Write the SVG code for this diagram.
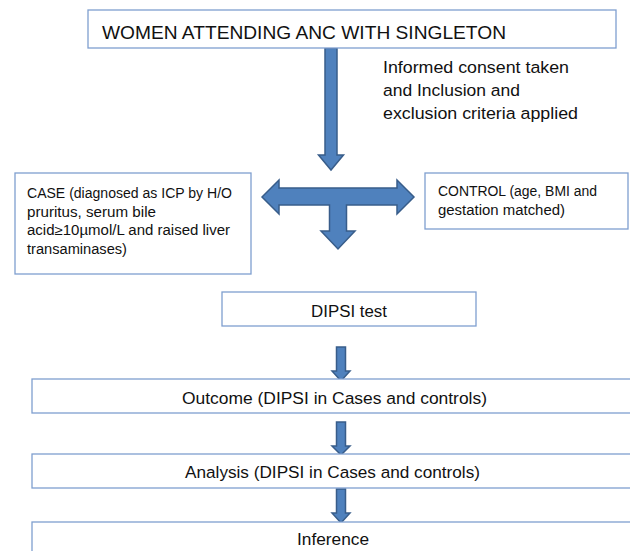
<svg xmlns="http://www.w3.org/2000/svg" width="630" height="551" viewBox="0 0 630 551">
<style>
.box{fill:#fff;stroke:#7F9FCF;stroke-width:1.3}
.arr{fill:#4F81BD;stroke:#385D8A;stroke-width:1.5;stroke-linejoin:miter}
text{font-family:"Liberation Sans",Arial,sans-serif;fill:#111}
.s{font-size:13.8px}
.m{font-size:16.8px}
.l{font-size:17.8px}
</style>
<rect width="630" height="551" fill="#fff"/>
<g id="connectors">
<path class="arr" d="M325,48 L337,48 L337,155 L343.5,155 L331,170 L318.5,155 L325,155 Z"/>
<path class="arr" d="M262,197 L279,180 L279,188 L397,188 L397,180 L414,197 L397,214 L397,205 L346.5,205 L346.5,231 L355,231 L338,249 L321,231 L329.5,231 L329.5,205 L279,205 L279,214 Z"/>
<path class="arr" d="M336.5,347 L345.5,347 L345.5,371 L350,371 L341,381 L332,371 L336.5,371 Z"/>
<path class="arr" d="M336.5,422 L345.5,422 L345.5,446 L350,446 L341,455 L332,446 L336.5,446 Z"/>
<path class="arr" d="M336.5,489 L345.5,489 L345.5,513 L350,513 L341,523 L332,513 L336.5,513 Z"/>
</g>
<g id="note">
<text class="m" x="383" y="73" textLength="186" lengthAdjust="spacingAndGlyphs">Informed consent taken</text>
<text class="m" x="383" y="96" textLength="137" lengthAdjust="spacingAndGlyphs">and Inclusion and</text>
<text class="m" x="383" y="119" textLength="195" lengthAdjust="spacingAndGlyphs">exclusion criteria applied</text>
</g>
<g id="women">
<rect class="box" x="88" y="10" width="528" height="38"/>
<text class="l" x="102" y="39" textLength="404" lengthAdjust="spacingAndGlyphs">WOMEN ATTENDING ANC WITH SINGLETON</text>
</g>
<g id="case">
<rect class="box" x="15" y="173" width="236" height="101"/>
<text class="s" x="27" y="198" textLength="205" lengthAdjust="spacingAndGlyphs">CASE (diagnosed as ICP by H/O</text>
<text class="s" x="27" y="216.5" textLength="129" lengthAdjust="spacingAndGlyphs">pruritus, serum bile</text>
<text class="s" x="27" y="235" textLength="203" lengthAdjust="spacingAndGlyphs">acid≥10µmol/L and raised liver</text>
<text class="s" x="27" y="253.5" textLength="100" lengthAdjust="spacingAndGlyphs">transaminases)</text>
</g>
<g id="control">
<rect class="box" x="425" y="173" width="203" height="56"/>
<text class="s" x="438" y="196" textLength="159" lengthAdjust="spacingAndGlyphs">CONTROL (age, BMI and</text>
<text class="s" x="438" y="215" textLength="127" lengthAdjust="spacingAndGlyphs">gestation matched)</text>
</g>
<g id="dipsi">
<rect class="box" x="222" y="292" width="254" height="34"/>
<text class="m" x="311" y="317" textLength="76" lengthAdjust="spacingAndGlyphs">DIPSI test</text>
</g>
<g id="outcome">
<rect class="box" x="32" y="379" width="608" height="34"/>
<text class="m" x="182" y="404" textLength="305" lengthAdjust="spacingAndGlyphs">Outcome (DIPSI in Cases and controls)</text>
</g>
<g id="analysis">
<rect class="box" x="32" y="454" width="608" height="34"/>
<text class="m" x="185" y="478" textLength="295" lengthAdjust="spacingAndGlyphs">Analysis (DIPSI in Cases and controls)</text>
</g>
<g id="inference">
<rect class="box" x="32" y="522" width="608" height="40"/>
<text class="m" x="297" y="545" textLength="72" lengthAdjust="spacingAndGlyphs">Inference</text>
</g>
</svg>
